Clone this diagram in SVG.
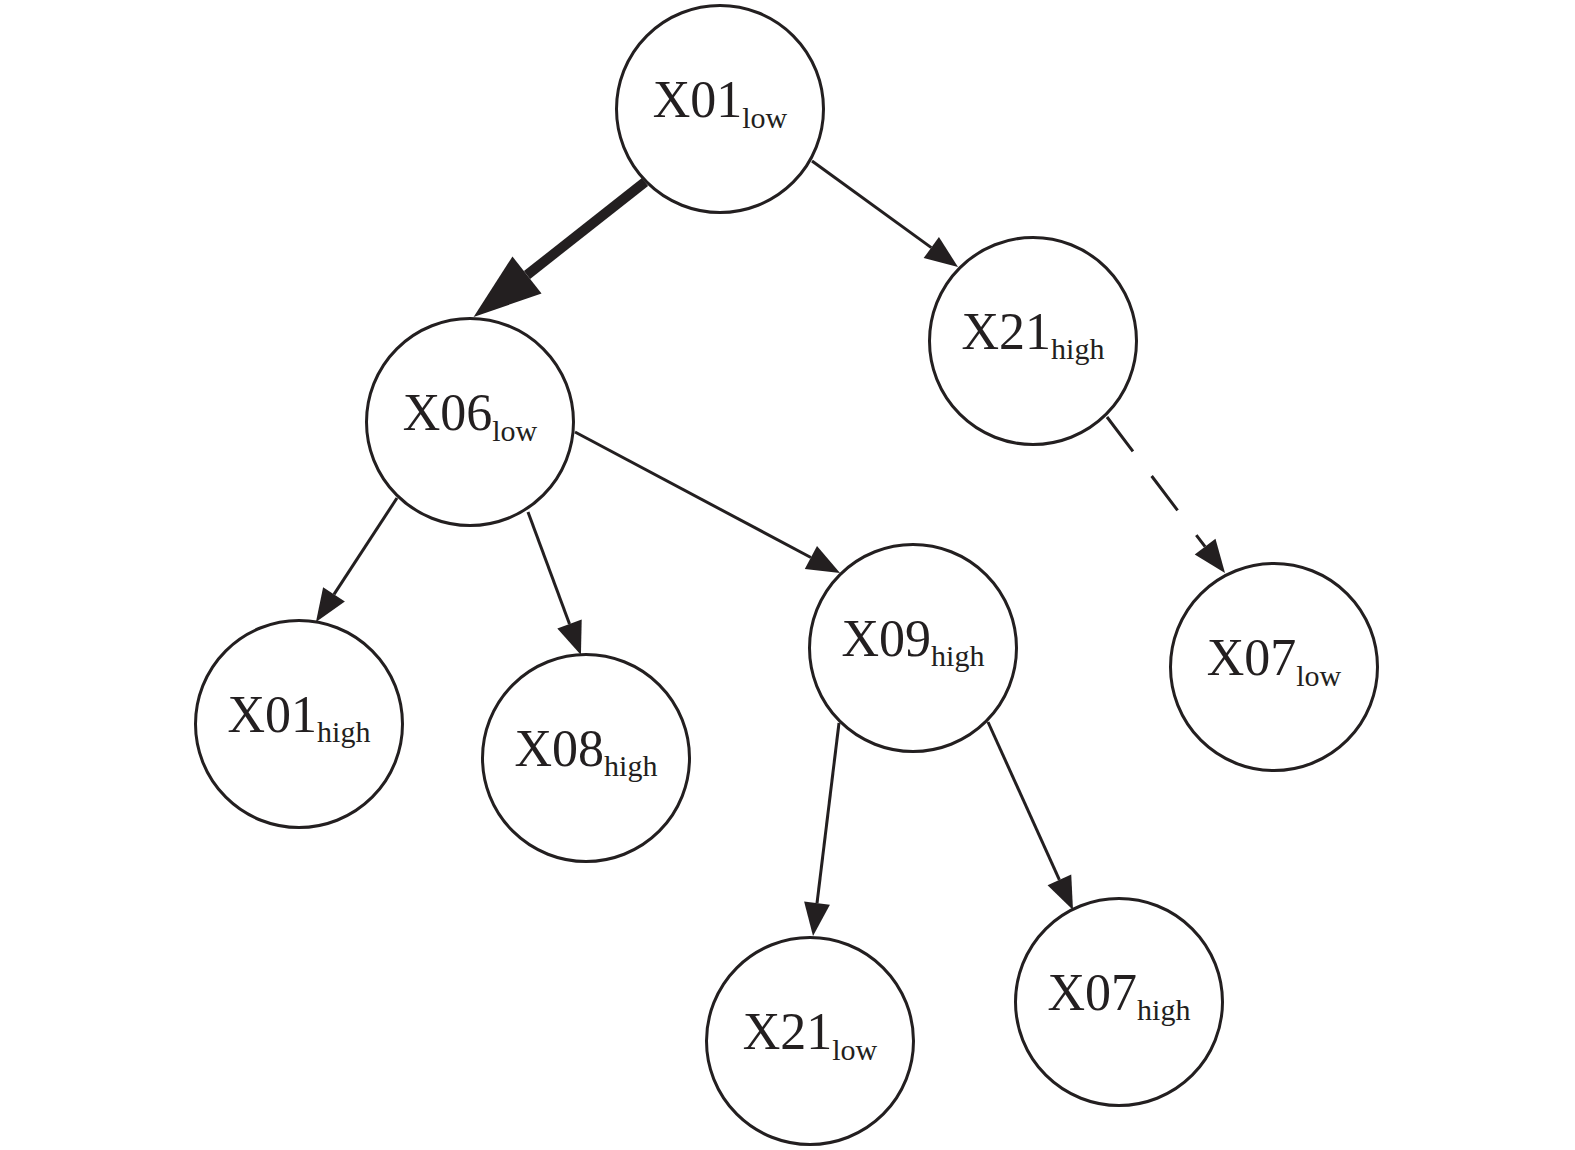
<svg xmlns="http://www.w3.org/2000/svg" width="1575" height="1150" viewBox="0 0 1575 1150">
<style>
.node circle{fill:#fff;stroke:#231f20;stroke-width:3}
.node text{font-family:"Liberation Serif","Times New Roman",serif;font-size:52px;fill:#231f20;text-anchor:middle}
.sub{font-size:30px}
.edge{stroke:#231f20;stroke-width:3;fill:none}
.thick{stroke-width:10}
.dash{stroke-dasharray:43 31}
</style>
<defs>
<marker id="arr" markerUnits="userSpaceOnUse" viewBox="0 -14 34 28" refX="0" refY="0" markerWidth="34" markerHeight="28" orient="auto" overflow="visible">
<path d="M0,-13 L33,0 L0,13 z" fill="#231f20"/>
</marker>
<marker id="arrBig" markerUnits="userSpaceOnUse" viewBox="0 -25 70 50" refX="0" refY="0" markerWidth="70" markerHeight="50" orient="auto" overflow="visible">
<path d="M0,-23.5 L68,0 L0,23.5 z" fill="#231f20"/>
</marker>
</defs>
<g id="connectors">
<line class="edge thick" x1="645" y1="182" x2="527" y2="275" marker-end="url(#arrBig)"/>
<line class="edge" x1="812" y1="161" x2="931.3" y2="247.6" marker-end="url(#arr)"/>
<line class="edge" x1="397" y1="498" x2="334" y2="594.4" marker-end="url(#arr)"/>
<line class="edge" x1="528" y1="512" x2="569.5" y2="624.1" marker-end="url(#arr)"/>
<line class="edge" x1="575" y1="432" x2="810.9" y2="557.5" marker-end="url(#arr)"/>
<line class="edge dash" x1="1107" y1="417" x2="1205.1" y2="546.7" marker-end="url(#arr)"/>
<line class="edge" x1="839" y1="723" x2="817" y2="903.2" marker-end="url(#arr)"/>
<line class="edge" x1="988" y1="722" x2="1059.4" y2="879.9" marker-end="url(#arr)"/>
</g>
<g id="n-x01low" class="node"><circle cx="720" cy="109" r="103.5"/><text x="720" y="117">X01<tspan class="sub" dy="11">low</tspan></text></g>
<g id="n-x21high" class="node"><circle cx="1033" cy="341" r="103.5"/><text x="1033" y="349">X21<tspan class="sub" dy="10">high</tspan></text></g>
<g id="n-x06low" class="node"><circle cx="470" cy="422" r="103.5"/><text x="470" y="430">X06<tspan class="sub" dy="11">low</tspan></text></g>
<g id="n-x01high" class="node"><circle cx="299" cy="724" r="103.5"/><text x="299" y="732">X01<tspan class="sub" dy="10">high</tspan></text></g>
<g id="n-x08high" class="node"><circle cx="586" cy="758" r="103.5"/><text x="586" y="766">X08<tspan class="sub" dy="10">high</tspan></text></g>
<g id="n-x09high" class="node"><circle cx="913" cy="648" r="103.5"/><text x="913" y="656">X09<tspan class="sub" dy="10">high</tspan></text></g>
<g id="n-x07low" class="node"><circle cx="1274" cy="667" r="103.5"/><text x="1274" y="675">X07<tspan class="sub" dy="11">low</tspan></text></g>
<g id="n-x21low" class="node"><circle cx="810" cy="1041" r="103.5"/><text x="810" y="1049">X21<tspan class="sub" dy="11">low</tspan></text></g>
<g id="n-x07high" class="node"><circle cx="1119" cy="1002" r="103.5"/><text x="1119" y="1010">X07<tspan class="sub" dy="10">high</tspan></text></g>
</svg>
